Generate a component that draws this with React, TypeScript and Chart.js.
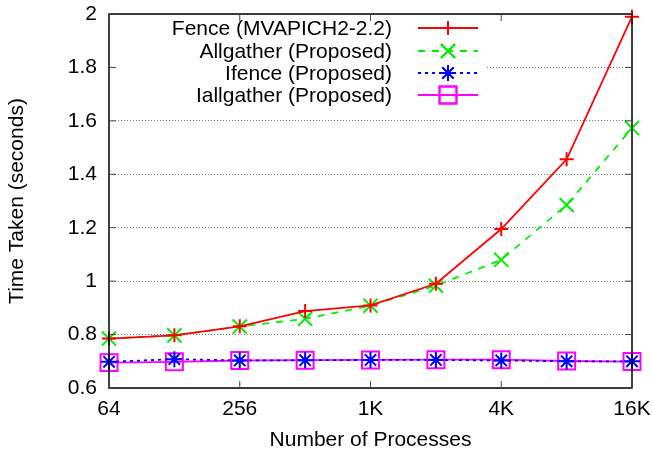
import React, { useEffect, useRef } from "react";
import { Chart, registerables } from "chart.js";
import { drawPoint } from "chart.js/helpers";

Chart.register(...registerables);

const categories = ["64", "128", "256", "512", "1K", "2K", "4K", "8K", "16K"];
const shownTickLabels = ["64", "", "256", "", "1K", "", "4K", "", "16K"];
const yTicks = [0.6, 0.8, 1, 1.2, 1.4, 1.6, 1.8, 2];

const fence = [0.785, 0.797, 0.831, 0.888, 0.909, 0.99, 1.195, 1.456, 1.99];
const allgather = [0.785, 0.797, 0.83, 0.859, 0.908, 0.983, 1.08, 1.285, 1.573];
const ifence = [0.698, 0.708, 0.703, 0.704, 0.705, 0.705, 0.703, 0.7, 0.7];
const iallgather = [0.695, 0.698, 0.703, 0.704, 0.705, 0.706, 0.706, 0.701, 0.699];

const seriesNames = [
  "Fence (MVAPICH2-2.2)",
  "Allgather (Proposed)",
  "Ifence (Proposed)",
  "Iallgather (Proposed)",
];

const FONT = "'Liberation Sans', Arial, Helvetica, sans-serif";
const FS = 21;

const legendBoxPlugin = {
  id: "legendBox",
  beforeDatasetsDraw(chart: any) {
    const { ctx, chartArea } = chart;
    ctx.save();
    ctx.fillStyle = "#fff";
    ctx.fillRect(chartArea.left + 1, chartArea.top + 1, 484 - chartArea.left, 106 - chartArea.top);
    ctx.restore();
  },
};

const framePlugin = {
  id: "frame",
  afterDatasetsDraw(chart: any) {
    const { ctx, chartArea } = chart;
    const { left, right, top, bottom } = chartArea;
    const xs = chart.scales.x;
    const ys = chart.scales.y;
    ctx.save();
    ctx.strokeStyle = "#000";
    ctx.lineWidth = 1.5;
    ctx.setLineDash([]);
    ctx.strokeRect(left, top, right - left, bottom - top);
    ctx.lineWidth = 1;
    ctx.strokeStyle = "#444";
    const tl = 7;
    for (let i = 0; i < categories.length; i++) {
      if (!shownTickLabels[i]) continue;
      const x = xs.getPixelForValue(i);
      ctx.beginPath();
      ctx.moveTo(x, bottom);
      ctx.lineTo(x, bottom - tl);
      ctx.moveTo(x, top);
      ctx.lineTo(x, top + tl);
      ctx.stroke();
    }
    for (const v of yTicks) {
      const y = ys.getPixelForValue(v);
      ctx.beginPath();
      ctx.moveTo(left, y);
      ctx.lineTo(left + tl, y);
      ctx.moveTo(right, y);
      ctx.lineTo(right - tl, y);
      ctx.stroke();
    }
    // legend
    const rowY = [28, 51, 73, 95];
    const textRight = 392;
    const lx0 = 418;
    const lx1 = 478;
    const mx = 448;
    ctx.font = `${FS}px ${FONT}`;
    ctx.textAlign = "right";
    ctx.textBaseline = "middle";
    chart.data.datasets.forEach((ds: any, i: number) => {
      const y = rowY[i];
      ctx.fillStyle = "#000";
      ctx.setLineDash([]);
      ctx.fillText(ds.label, textRight, y + 1);
      ctx.strokeStyle = ds.borderColor;
      ctx.lineWidth = ds.borderWidth;
      ctx.setLineDash(ds.borderDash || []);
      ctx.beginPath();
      ctx.moveTo(lx0, y);
      ctx.lineTo(lx1, y);
      ctx.stroke();
      ctx.setLineDash([]);
      ctx.fillStyle = "rgba(0,0,0,0)";
      drawPoint(
        ctx,
        {
          pointStyle: ds.pointStyle,
          radius: ds.pointRadius,
          rotation: 0,
          borderWidth: ds.pointBorderWidth,
        } as any,
        mx,
        y
      );
      ctx.strokeStyle = ds.borderColor;
      ctx.lineWidth = ds.pointBorderWidth;
      ctx.stroke();
    });
    ctx.restore();
  },
};

export default function App() {
  const ref = useRef<HTMLCanvasElement | null>(null);
  useEffect(() => {
    if (!ref.current) return;
    const mk = (
      label: string,
      data: number[],
      color: string,
      style: string,
      radius: number,
      dash: number[]
    ) => ({
      label,
      data,
      borderColor: color,
      backgroundColor: "rgba(0,0,0,0)",
      pointBorderColor: color,
      pointBackgroundColor: "rgba(0,0,0,0)",
      pointStyle: style,
      pointRadius: radius,
      pointBorderWidth: 2,
      borderWidth: 1.8,
      borderDash: dash,
      tension: 0,
      clip: false as any,
    });
    const chart = new Chart(ref.current, {
      type: "line",
      data: {
        labels: categories,
        datasets: [
          mk(seriesNames[0], fence, "#ff0000", "cross", 7, []),
          mk(seriesNames[1], allgather, "#00ee00", "crossRot", 10, [7, 7]),
          mk(seriesNames[2], ifence, "#0000ff", "star", 8, [3, 4]),
          mk(seriesNames[3], iallgather, "#ff00ff", "rect", 12, []),
        ] as any,
      },
      options: {
        animation: false,
        responsive: false,
        layout: { padding: { left: 0, right: 20, top: 12, bottom: 0 } },
        plugins: {
          legend: { display: false },
          tooltip: { enabled: false },
        },
        scales: {
          x: {
            type: "category",
            offset: false,
            grid: { display: false, drawTicks: false },
            border: { display: false },
            ticks: {
              autoSkip: false,
              maxRotation: 0,
              padding: 9,
              color: "#000",
              font: { family: FONT, size: FS },
              callback: (_v: any, i: number) => shownTickLabels[i],
            },
            title: {
              display: true,
              text: "Number of Processes",
              color: "#000",
              font: { family: FONT, size: FS },
              padding: { top: 0, bottom: 6 },
            },
            afterFit: (s: any) => {
              s.height = 71;
              s.paddingLeft = 0;
              s.paddingRight = 0;
            },
          },
          y: {
            min: 0.6,
            max: 2,
            afterBuildTicks: (s: any) => {
              s.ticks = yTicks.map((v) => ({ value: v }));
            },
            grid: {
              drawTicks: false,
              color: "#777",
              lineWidth: 1,
            },
            border: { display: false, dash: [1, 2] },
            ticks: {
              padding: 12,
              color: "#000",
              font: { family: FONT, size: FS },
              callback: (v: any) => String(Number(v)),
            },
            title: {
              display: true,
              text: "Time Taken (seconds)",
              color: "#000",
              font: { family: FONT, size: FS },
              padding: { top: 5, bottom: 0 },
            },
            afterFit: (s: any) => {
              s.width = 109;
              s.paddingTop = 0;
              s.paddingBottom = 0;
            },
          },
        },
      },
      plugins: [legendBoxPlugin, framePlugin],
    });
    return () => chart.destroy();
  }, []);
  return (
    <div style={{ position: "fixed", left: 0, top: 0, width: 652, height: 459, background: "#fff" }}>
      <canvas ref={ref} width={652} height={459} style={{ width: 652, height: 459 }} />
    </div>
  );
}
